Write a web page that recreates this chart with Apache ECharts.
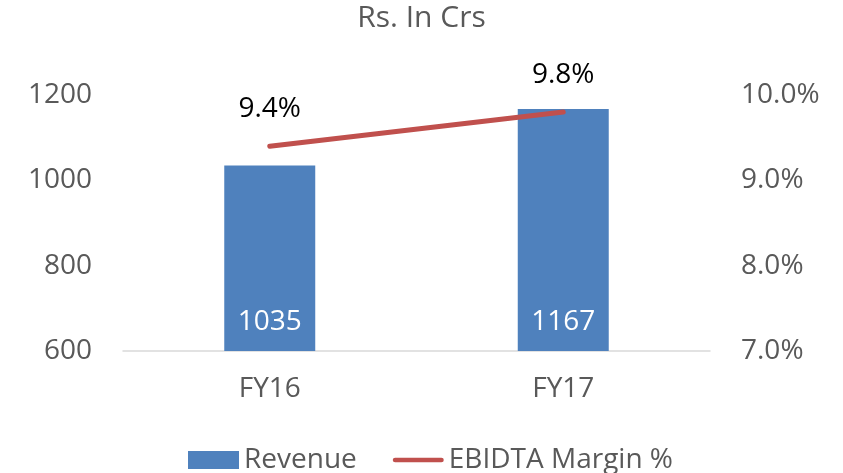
<!DOCTYPE html>
<html>
<head>
<meta charset="utf-8">
<script src="https://cdn.jsdelivr.net/npm/echarts@6/dist/echarts.min.js"></script>
<style>html,body{margin:0;padding:0;background:#fff;}#chart{width:843px;height:473px;}</style>
</head>
<body>
<div id="chart"></div>
<script>
const categories = ['FY16', 'FY17'];
const revenue = [1035, 1167];
const ebitdaMargin = [9.4, 9.8];
const titleText = 'Rs. In Crs';

const FONT = '"Open Sans", sans-serif';
const GREY = '#595959';

const chart = echarts.init(document.getElementById('chart'));
chart.setOption({
  animation: false,
  backgroundColor: '#ffffff',
  title: {
    text: titleText,
    left: 'center',
    top: 3,
    padding: 0,
    textStyle: { fontFamily: FONT, fontSize: 30, fontWeight: 'normal', color: GREY }
  },
  legend: {
    left: 183,
    top: 441,
    itemGap: 36,
    itemWidth: 51,
    itemHeight: 18,
    textStyle: { fontFamily: FONT, fontSize: 28, color: GREY },
    data: [
      { name: 'Revenue', icon: 'rect' },
      { name: 'EBIDTA Margin %', icon: 'path://M2.5,0 H52.5 A2.5,2.5 0 0 1 52.5,5 H2.5 A2.5,2.5 0 0 1 2.5,0 Z', itemStyle: { color: '#C0504D', opacity: 1 } }
    ]
  },
  grid: { left: 123, right: 133, top: 95, bottom: 122, containLabel: false },
  xAxis: {
    type: 'category',
    data: categories,
    axisLine: { show: true, lineStyle: { color: '#D9D9D9', width: 1.5 } },
    axisTick: { show: false },
    axisLabel: { fontFamily: FONT, fontSize: 28, color: GREY, margin: 24 }
  },
  yAxis: [
    {
      type: 'value', min: 600, max: 1200, interval: 200,
      splitLine: { show: false },
      axisLine: { show: false }, axisTick: { show: false },
      axisLabel: { fontFamily: FONT, fontSize: 28, color: GREY, margin: 31,
        formatter: v => String(v) }
    },
    {
      type: 'value', min: 7, max: 10, interval: 1, position: 'right',
      splitLine: { show: false },
      axisLine: { show: false }, axisTick: { show: false },
      axisLabel: { fontFamily: FONT, fontSize: 28, color: GREY, margin: 31,
        formatter: v => v.toFixed(1) + '%' }
    }
  ],
  series: [
    {
      name: 'Revenue', type: 'bar', data: revenue, barWidth: '31%',
      yAxisIndex: 0,
      itemStyle: { color: '#4F81BD' },
      label: { show: true, position: 'insideBottom', distance: 15,
        fontFamily: FONT, fontSize: 28, color: '#ffffff' }
    },
    {
      name: 'EBIDTA Margin %', type: 'line', data: ebitdaMargin,
      yAxisIndex: 1, symbol: 'circle', symbolSize: 2, showSymbol: true,
      lineStyle: { color: '#C0504D', width: 5, cap: 'round' },
      itemStyle: { color: '#C0504D' },
      label: { show: true, position: 'top', distance: 22,
        fontFamily: FONT, fontSize: 28, color: '#000000',
        formatter: p => p.value.toFixed(1) + '%' }
    }
  ]
});
</script>
</body>
</html>
